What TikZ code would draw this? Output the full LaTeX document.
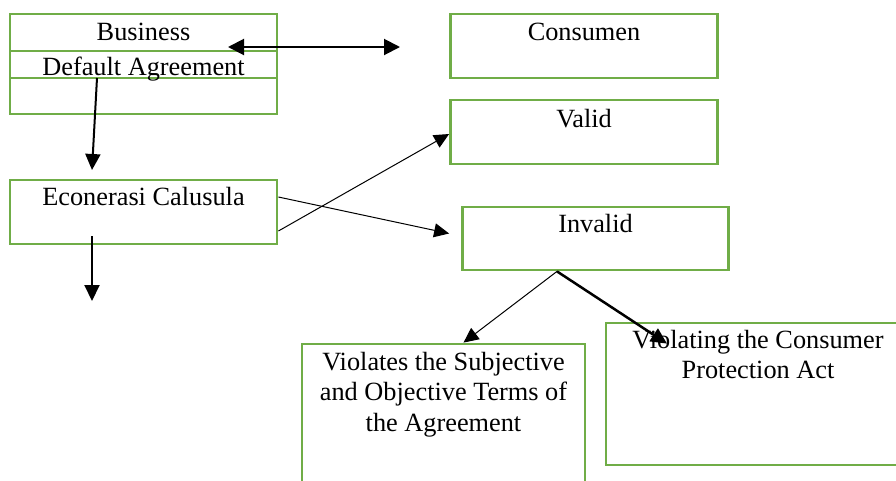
\documentclass[tikz,border=0pt]{standalone}
\usepackage{fontspec}
\setmainfont{Liberation Serif}
\usetikzlibrary{arrows.meta}
\definecolor{boxgreen}{HTML}{70AD47}
\begin{document}
\begin{tikzpicture}[x=1pt,y=-1pt,
  box/.style={draw=boxgreen, line width=2.8pt, rectangle, inner sep=0pt},
  txt/.style={font=\fontsize{26.3}{31}\selectfont, anchor=base, inner sep=0pt},
  thinarrow/.style={draw=black, line width=1pt, -{Triangle[length=15pt,width=14pt]}},
  thickarrow/.style={draw=black, line width=2pt, -{Triangle[length=16pt,width=15pt]}},
  dblarrow/.style={draw=black, line width=2pt, {Triangle[length=16pt,width=16pt]}-{Triangle[length=16pt,width=16pt]}}]
\useasboundingbox (0,0) rectangle (896,480);
\clip (0,0) rectangle (896,480);

% boxes
\node[box, minimum width=267pt, minimum height=100pt] (biz) at (143.5,64) {};
\draw[boxgreen, line width=2.8pt] (10,51) -- (277,51);
\draw[boxgreen, line width=2.8pt] (10,78) -- (277,78);
\node[box, minimum width=267pt, minimum height=64pt] (con) at (584,46) {};
\node[box, minimum width=267pt, minimum height=64pt] (val) at (584,132) {};
\node[box, minimum width=266pt, minimum height=63pt] (inv) at (595.5,238.5) {};
\node[box, minimum width=267pt, minimum height=64pt] (eco) at (143.5,212) {};
\node[box, minimum width=283pt, minimum height=156pt] (vio) at (443.5,422) {};
\node[box, minimum width=304pt, minimum height=142pt] (vng) at (758,394) {};

% texts
\node[txt] (tbiz) at (143.5,40) {Business};
\node[txt] (tdef) at (143.5,75) {Default Agreement};
\node[txt] (tcon) at (584,40) {Consumen};
\node[txt] (tval) at (584,127) {Valid};
\node[txt] (tinv) at (595.5,232) {Invalid};
\node[txt] (teco) at (143.5,205) {Econerasi Calusula};
\node[txt] (tvio1) at (443.5,370) {Violates the Subjective};
\node[txt] (tvio2) at (443.5,400) {and Objective Terms of};
\node[txt] (tvio3) at (443.5,431) {the Agreement};
\node[txt] (tvng1) at (758,348) {Violating the Consumer};
\node[txt] (tvng2) at (758,378) {Protection Act};

% connector endpoints
\coordinate (d1) at (228,47);
\coordinate (d2) at (400,47);
\coordinate (a1) at (97,78);
\coordinate (a2) at (92,170);
\coordinate (b1) at (92,236);
\coordinate (b2) at (92,301);
\coordinate (branch) at ([xshift=-38.5pt]inv.south);

% connectors
\draw[dblarrow] (d1) -- (d2);
\draw[thickarrow] (a1) -- (a2);
\draw[thickarrow] (b1) -- (b2);
\draw[thinarrow] ([yshift=-19pt]eco.east) -- ([yshift=-2pt]val.west);
\draw[thinarrow] ([yshift=15pt]eco.east) -- ([xshift=-12pt,yshift=5pt]inv.west);
\draw[thinarrow] (branch) -- ([xshift=20pt]vio.north);
\draw[thickarrow, line width=2.5pt] (branch) -- ([xshift=-91pt,yshift=-22pt]vng.north);
\end{tikzpicture}
\end{document}
